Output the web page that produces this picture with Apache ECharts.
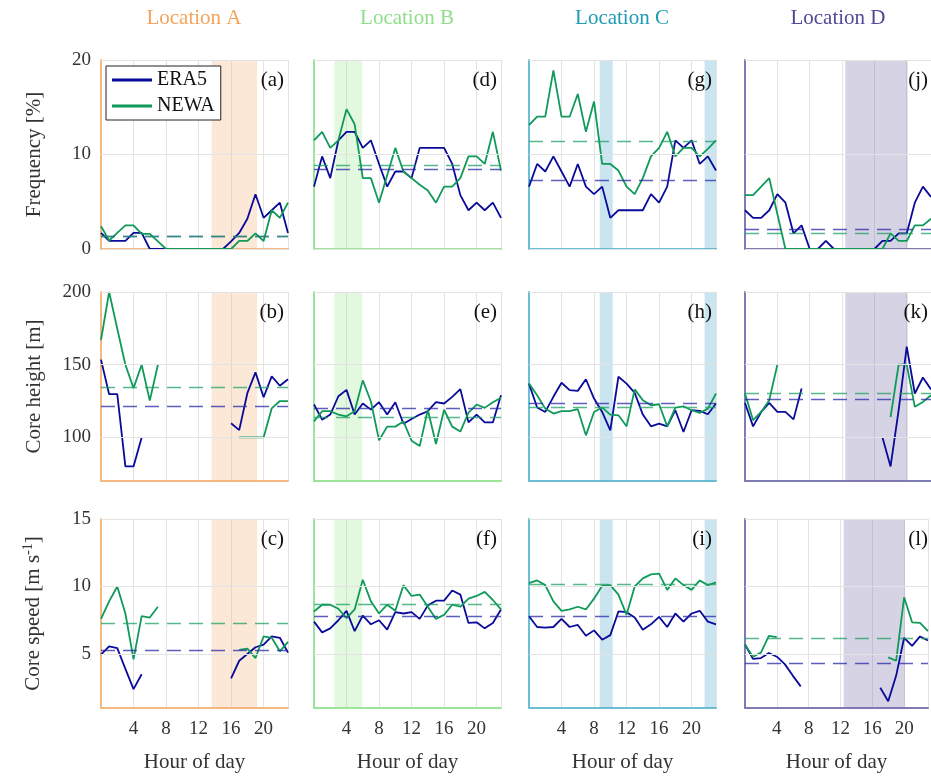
<!DOCTYPE html>
<html>
<head>
<meta charset="utf-8">
<script src="https://cdn.jsdelivr.net/npm/echarts@6/dist/echarts.min.js"></script>
<style>html,body{margin:0;padding:0;background:#fff}#chart{width:931px;height:776px}</style>
</head>
<body>
<div id="chart"></div>
<script>
// hours 0..23, null = no data
const hours = [0,1,2,3,4,5,6,7,8,9,10,11,12,13,14,15,16,17,18,19,20,21,22,23];
const locations = ['Location A', 'Location B', 'Location C', 'Location D'];
const panelLetters = [['(a)','(b)','(c)'],['(d)','(e)','(f)'],['(g)','(h)','(i)'],['(j)','(k)','(l)']];
const rowNames = ['Frequency [%]', 'Core height [m]', 'Core speed'];
const xTicks = [4, 8, 12, 16, 20];
const yTicks = [[0, 10, 20], [100, 150, 200], [5, 10, 15]];
const yRange = [[0, 20], [70, 200], [1, 15]];
const shading = [[[13.6, 19.2]], [[2.5, 5.9]], [[8.7, 10.3], [21.6, 23]], [[12.4, 20.1]]];

// Frequency [%]
const freqERA5 = [
  [1.7,0.85,0.85,0.85,1.7,1.7,0,0,0,0,0,0,0,0,0,0,0.8,1.7,3.2,5.8,3.3,4.1,4.9,1.7],
  [6.6,9.8,7.5,11.5,12.4,12.4,10.7,11.5,9.0,6.6,8.2,8.2,7.5,10.7,10.7,10.7,10.7,9.0,5.7,4.1,4.9,4.1,4.9,3.3],
  [6.6,9.0,8.2,9.8,8.2,6.6,9.0,6.6,5.8,6.6,3.3,4.1,4.1,4.1,4.1,5.8,4.9,6.6,11.5,10.7,11.5,9.0,9.8,8.3],
  [4.1,3.3,3.3,4.1,5.8,4.9,1.65,2.5,0,0,0.85,0,0,0,0,0,0,0.85,0.85,1.65,1.65,4.9,6.6,5.5]
];
const freqNEWA = [
  [2.4,0.9,1.7,2.5,2.5,1.6,1.6,0.8,0,0,0,0,0,0,0,0,0,0.85,0.85,1.65,0.85,4.1,3.3,4.9],
  [11.5,12.4,10.7,11.5,14.8,13.2,7.5,7.5,4.9,7.8,10.7,8.2,7.5,6.8,6.2,4.9,6.6,6.6,7.5,9.8,9.8,9.0,12.4,8.3],
  [13.1,14.0,14.0,18.9,14.0,14.0,16.4,12.4,15.6,9.0,9.0,8.3,6.6,5.8,7.5,9.8,10.7,12.4,9.8,10.7,10.7,9.8,10.6,11.5],
  [5.7,5.7,6.6,7.5,3.7,0,0,0,0,0,0,0,0,0,0,0,0,0,1.65,0.85,0.85,2.5,2.5,3.2]
];
const freqMeanERA5 = [1.4, 8.45, 7.3, 2.1];
const freqMeanNEWA = [1.3, 8.9, 11.4, 1.65];

// Core height [m]
const heightERA5 = [
  [153.5,129.7,129.7,80,80,100,null,null,null,null,null,null,null,null,null,null,109.7,105,130.4,144.7,127.6,142,135.5,140],
  [122.6,112.2,115.7,128.3,132.7,115.7,123.3,119.1,124.2,115.7,124.2,109.4,112.6,115.7,118,124.2,123.3,127.9,133.2,110.3,115.7,110.3,110.3,129],
  [137,120.5,117.5,127.9,137.6,132.5,132,140,126.7,117.5,104.8,141.7,137,130.6,115.7,107.6,109.4,107.6,118.7,103.7,118.7,118.2,115.9,123.3],
  [123.7,107.6,117.5,123.7,117.5,117.5,112.4,133.6,null,null,null,null,null,null,null,null,null,100,80,118.7,162.4,130.2,141.2,133]
];
const heightNEWA = [
  [167,200,174.7,150,133.9,150,125.3,150,null,null,null,null,null,null,null,null,null,100,100,100,100,120,125,125],
  [111,118,118,115.7,114.5,118,139.2,124.7,98,107.4,107.4,111,97.7,94,119,95.4,119,107.4,104,117,122.6,120.3,124.2,127.2],
  [137,129,119.8,116.4,118,118,119.4,101.4,117.5,120.5,115.7,115.2,107.6,133,125.6,122.1,122.8,107.6,120.5,121.4,118.7,116.8,119.8,130.2],
  [130.2,111.8,117.5,125.6,150,null,null,null,null,null,null,null,null,null,null,null,null,null,114,150,150,121,124.4,129]
];
const heightMeanERA5 = [121.7, 119.8, 123.8, 126.1];
const heightMeanNEWA = [134.4, 113.6, 121, 130.2];

// Core speed [m s-1]
const speedERA5 = [
  [4.95,5.57,5.44,3.9,2.4,3.5,null,null,null,null,null,null,null,null,null,null,3.2,4.5,5.0,5.5,5.7,6.3,6.2,5.1],
  [7.4,6.6,6.9,7.5,8.2,6.7,7.85,7.2,7.5,6.8,8.1,8.0,8.1,7.6,8.6,8.95,8.95,9.7,9.4,7.3,7.35,6.9,7.3,8.3],
  [7.8,7.0,6.95,7.0,7.6,7.0,7.15,6.35,6.75,6.06,6.4,8.15,8.1,7.7,6.8,7.2,7.75,7.0,8.0,7.4,8.0,8.2,7.4,7.2],
  [5.7,4.64,4.7,5.07,4.8,4.25,3.4,2.6,null,null,null,null,null,null,null,null,null,2.5,1.5,3.4,6.2,5.6,6.3,6.0]
];
const speedNEWA = [
  [7.6,8.9,10,8.0,4.6,7.8,7.7,8.5,null,null,null,null,null,null,null,null,null,5.3,5.4,4.7,6.3,6.2,5.2,5.9],
  [8.15,8.65,8.65,8.35,7.65,8.3,10.5,8.9,8.0,8.65,8.2,10.1,9.3,9.4,8.5,7.6,7.9,8.65,8.5,9.1,9.3,9.6,9.0,8.3],
  [10.25,10.45,10.1,8.9,8.2,8.3,8.5,8.3,9.1,10.05,10.1,9.4,7.9,10.0,10.6,10.9,10.95,9.75,10.6,10.1,9.75,10.45,10.1,10.3],
  [5.7,4.8,5.1,6.35,6.25,null,null,null,null,null,null,null,null,null,null,null,null,null,4.75,4.5,9.2,7.35,7.3,6.7]
];
const speedMeanERA5 = [5.27, 7.83, 7.76, 4.3];
const speedMeanNEWA = [7.27, 8.7, 10.2, 6.2];

const titleColors = ['#f5a35a', '#8fde8a', '#1e9bb5', '#4e4a97'];
const axisColors = ['#f5b880', '#9be59b', '#6cbfd2', '#7f7bb3'];
const shadeColors = ['rgba(246,178,120,0.3)', 'rgba(160,232,150,0.3)', 'rgba(90,175,205,0.32)', 'rgba(120,110,165,0.3)'];
const eraColor = '#0a0a9a';
const newaColor = '#0f9a5a';
const font = 'Liberation Serif';

const rows = [
  [freqERA5, freqNEWA, freqMeanERA5, freqMeanNEWA],
  [heightERA5, heightNEWA, heightMeanERA5, heightMeanNEWA],
  [speedERA5, speedNEWA, speedMeanERA5, speedMeanNEWA]
];
const lefts = [101, 314, 529, 745];
const tops = [60, 292, 519];
const heights = [189, 189, 189];

const grid = [], xAxis = [], yAxis = [], series = [], graphic = [];
let g = 0;
for (let r = 0; r < 3; r++) {
  for (let c = 0; c < 4; c++) {
    grid.push({ left: lefts[c], top: tops[r], width: 187, height: heights[r] });
    xAxis.push({
      gridIndex: g, type: 'value', min: 0, max: 23, interval: 4,
      axisLine: { show: true, lineStyle: { color: axisColors[c], width: 2 } },
      axisTick: { show: false },
      splitLine: { show: true, lineStyle: { color: '#e3e3e3' } },
      axisLabel: {
        show: r === 2, fontFamily: font, fontSize: 19, color: '#333', margin: 12,
        formatter: v => xTicks.includes(v) ? String(v) : ''
      },
      name: r === 2 ? 'Hour of day' : '', nameLocation: 'middle', nameGap: 44,
      nameTextStyle: { fontFamily: font, fontSize: 21, color: '#333' }
    });
    yAxis.push({
      gridIndex: g, type: 'value', min: yRange[r][0], max: yRange[r][1],
      axisLine: { show: true, lineStyle: { color: axisColors[c], width: 2 } },
      axisTick: { show: false },
      splitLine: { show: false },
      axisLabel: { show: c === 0, customValues: yTicks[r], fontFamily: font, fontSize: 19, color: '#333', margin: 10 },
      name: c === 0 ? (r === 2 ? '{a|Core speed [m s}{s|-1}{a|]}' : rowNames[r]) : '',
      nameLocation: 'middle', nameGap: 56, nameRotate: 90,
      nameTextStyle: {
        fontFamily: font, fontSize: 21, color: '#333',
        rich: { a: { fontFamily: font, fontSize: 21, color: '#333' }, s: { fontFamily: font, fontSize: 14, color: '#333', padding: [0, 0, 10, 0] } }
      }
    });
    const [eraArr, newaArr, eraMean, newaMean] = rows[r];
    const pairs = arr => hours.map((h, i) => [h, arr[c][i]]);
    series.push({
      name: 'ERA5', type: 'line', xAxisIndex: g, yAxisIndex: g, data: pairs(eraArr),
      symbol: 'none', connectNulls: false, z: 4,
      lineStyle: { color: eraColor, width: 1.8 }, itemStyle: { color: eraColor },
      markArea: {
        silent: true, itemStyle: { color: shadeColors[c] },
        data: shading[c].map(s => [{ xAxis: s[0] }, { xAxis: s[1] }])
      },
      markLine: {
        silent: true, symbol: 'none', label: { show: false },
        lineStyle: { color: '#e3e3e3', type: 'solid', width: 1 },
        data: yTicks[r].map(v => ({ yAxis: v }))
      }
    });
    series.push({
      name: 'NEWA', type: 'line', xAxisIndex: g, yAxisIndex: g, data: pairs(newaArr),
      symbol: 'none', connectNulls: false, z: 4,
      lineStyle: { color: newaColor, width: 1.8 }, itemStyle: { color: newaColor },
      markLine: {
        silent: true, symbol: 'none', label: { show: false },
        data: [
          { yAxis: eraMean[c], lineStyle: { color: 'rgba(40,40,170,0.75)', type: [14, 8], width: 1.3 } },
          { yAxis: newaMean[c], lineStyle: { color: 'rgba(30,160,100,0.75)', type: [14, 8], width: 1.3 } }
        ]
      }
    });
    graphic.push({
      type: 'text', right: 931 - lefts[c] - 183, top: tops[r] + 10,
      style: { text: panelLetters[c][r], font: '21px "' + font + '"', fill: '#111' }, z: 10
    });
    g++;
  }
}
locations.forEach((name, c) => {
  graphic.push({
    type: 'text', x: lefts[c] + 93, y: 8,
    style: { text: name, font: '21px "' + font + '"', fill: titleColors[c], align: 'center' }
  });
});

const chart = echarts.init(document.getElementById('chart'), null, { renderer: 'canvas' });
chart.setOption({
  animation: false,
  grid, xAxis, yAxis, series, graphic,
  legend: {
    data: ['ERA5', 'NEWA'], orient: 'vertical', left: 106, top: 66,
    borderColor: '#222', borderWidth: 1, backgroundColor: '#fff', padding: [4, 6, 4, 6],
    itemWidth: 40, itemHeight: 3, itemGap: 6, icon: 'rect',
    textStyle: { fontFamily: font, fontSize: 20, color: '#111' }
  }
});
</script>
</body>
</html>
